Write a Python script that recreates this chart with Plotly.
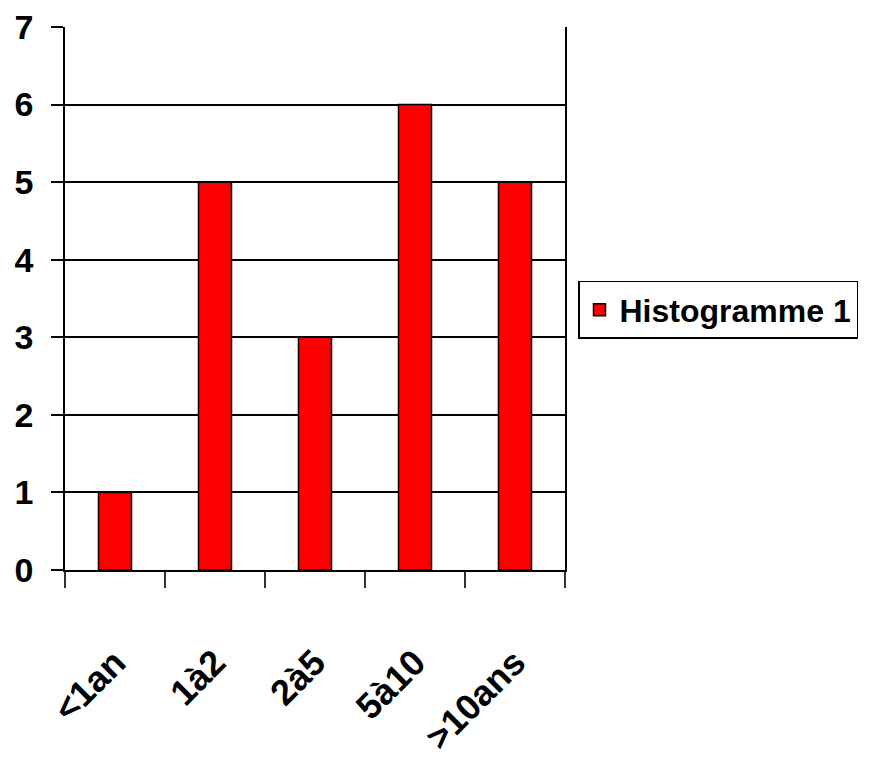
import plotly.graph_objects as go

categories = ["<1an", "1à2", "2à5", "5à10", ">10ans"]
values = [1, 5, 3, 6, 5]
series_name = "Histogramme 1"

FONT = "Liberation Sans Narrow, Arial Narrow, Liberation Sans, Arial, sans-serif"

fig = go.Figure()
fig.add_trace(go.Bar(
    x=categories, y=values, name=series_name,
    marker=dict(color="#FF0000", line=dict(color="#000000", width=1.5)),
    showlegend=True,
))

fig.update_layout(
    width=861, height=761,
    margin=dict(l=57, r=304, t=19, b=199, autoexpand=False),
    paper_bgcolor="white", plot_bgcolor="white",
    bargap=0.67,
    font=dict(family=FONT, color="black"),
    legend=dict(
        x=1.026, xanchor="left", y=0.479, yanchor="middle",
        bordercolor="black", borderwidth=1.5, bgcolor="white",
        font=dict(family=FONT, size=32, weight="bold", color="black"),
        itemwidth=30,
    ),
    xaxis=dict(
        type="category",
        automargin=False,
        tickangle=-45,
        tickson="boundaries",
        ticks="outside", ticklen=16, tickcolor="#333333", tickwidth=1.5,
        showline=True, linecolor="black", linewidth=2,
        showgrid=False,
        tickfont=dict(family=FONT, size=36, weight="bold", color="black"),
        ticklabelstandoff=55,
        ticklabeloverflow="allow",
    ),
    yaxis=dict(
        range=[0, 7], dtick=1,
        automargin=False,
        ticks="outside", ticklen=12, tickcolor="black", tickwidth=1.5,
        showline=True, linecolor="black", linewidth=1.5, mirror=True,
        showgrid=True, gridcolor="black", gridwidth=1.5,
        zeroline=False,
        tickfont=dict(family=FONT, size=34, weight="bold", color="black"),
        ticklabelstandoff=11,
        ticklabeloverflow="allow",
    ),
)

fig.write_html("out.html")
